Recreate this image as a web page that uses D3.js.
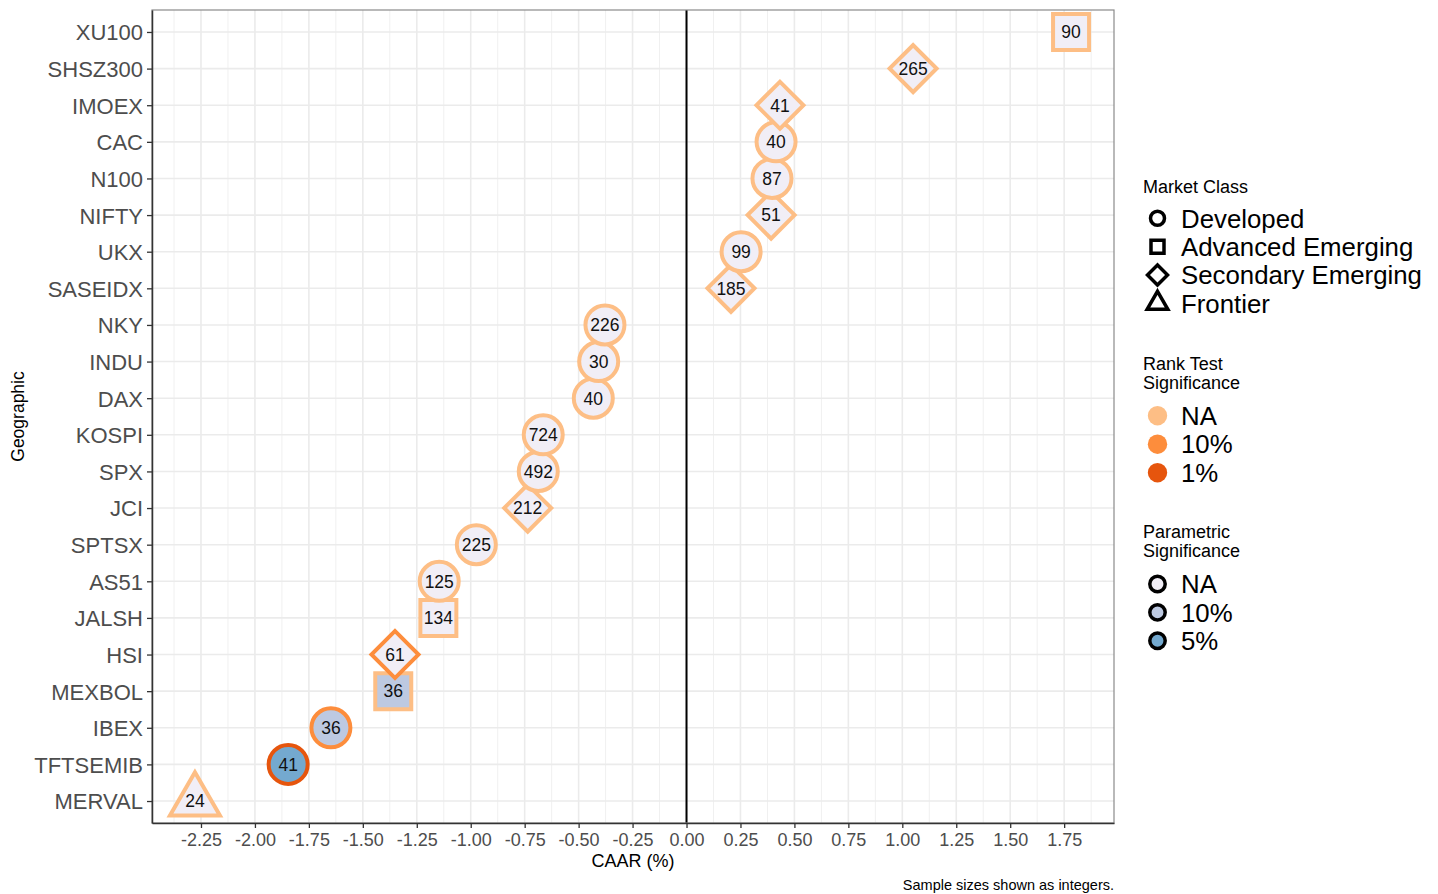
<!DOCTYPE html>
<html><head><meta charset="utf-8">
<script src="https://cdn.jsdelivr.net/npm/d3@7"></script>
<style>
body{margin:0;background:#fff}
text{font-family:"Liberation Sans",Arial,Helvetica,sans-serif}
</style>
</head><body>
<svg id="chart" width="1438" height="894"></svg>
<script>
// Index CAAR estimates, top row first
const tickers = ["XU100","SHSZ300","IMOEX","CAC","N100","NIFTY","UKX","SASEIDX","NKY","INDU","DAX","KOSPI","SPX","JCI","SPTSX","AS51","JALSH","HSI","MEXBOL","IBEX","TFTSEMIB","MERVAL"];
const caar = [1.782,1.050,0.433,0.415,0.396,0.392,0.253,0.206,-0.378,-0.407,-0.432,-0.664,-0.687,-0.736,-0.974,-1.146,-1.150,-1.351,-1.359,-1.648,-1.846,-2.278];
const sampleSize = [90,265,41,40,87,51,99,185,226,30,40,724,492,212,225,125,134,61,36,36,41,24];
const marketClass = ["Advanced Emerging","Secondary Emerging","Secondary Emerging","Developed","Developed","Secondary Emerging","Developed","Secondary Emerging","Developed","Developed","Developed","Developed","Developed","Secondary Emerging","Developed","Developed","Advanced Emerging","Secondary Emerging","Advanced Emerging","Developed","Developed","Frontier"];
const rankSig = ["NA","NA","NA","NA","NA","NA","NA","NA","NA","NA","NA","NA","NA","NA","NA","NA","NA","10%","NA","10%","1%","NA"];
const paramSig = ["NA","NA","NA","NA","NA","NA","NA","NA","NA","NA","NA","NA","NA","NA","NA","NA","NA","NA","10%","10%","5%","NA"];

const xTicks = [-2.25,-2.00,-1.75,-1.50,-1.25,-1.00,-0.75,-0.50,-0.25,0.00,0.25,0.50,0.75,1.00,1.25,1.50,1.75];
const classLevels = ["Developed","Advanced Emerging","Secondary Emerging","Frontier"];
const rankLevels = ["NA","10%","1%"];
const paramLevels = ["NA","10%","5%"];

const svg = d3.select("#chart");
const panel = {left:152, right:1114, top:10, bottom:823};

const x = d3.scaleLinear().domain([-2.477, 1.981]).range([panel.left, panel.right]);
const y = d3.scalePoint().domain(tickers).range([panel.top, panel.bottom]).padding(0.6);

const rankColor = d3.scaleOrdinal().domain(rankLevels).range(["#fdbe85","#fd8d3c","#e6550d"]);
const paramColor = d3.scaleOrdinal().domain(paramLevels).range(["#f1eef6","#bdc9e1","#74a9cf"]);

// symbol generators per market class, sized in px^2
function shapeFor(cls) {
  if (cls === "Developed") return {type:d3.symbolCircle, size:Math.PI*19.5*19.5, rot:0};
  if (cls === "Advanced Emerging") return {type:d3.symbolSquare, size:36*36, rot:0};
  if (cls === "Secondary Emerging") return {type:d3.symbolSquare, size:Math.pow(23.5*Math.SQRT2,2), rot:45};
  return {type:d3.symbolTriangle, size:1082, rot:0};
}

// grid
const minor = [];
for (let i = 0; i < xTicks.length - 1; i++) minor.push((xTicks[i] + xTicks[i+1]) / 2);
minor.unshift(xTicks[0] - 0.125);
minor.push(xTicks[xTicks.length-1] + 0.125);

const grid = svg.append("g");
grid.selectAll("line.minor").data(minor).join("line")
  .attr("x1", d => x(d)).attr("x2", d => x(d))
  .attr("y1", panel.top).attr("y2", panel.bottom)
  .attr("stroke", "#f0f0f0").attr("stroke-width", 1);
grid.selectAll("line.majorx").data(xTicks).join("line")
  .attr("x1", d => x(d)).attr("x2", d => x(d))
  .attr("y1", panel.top).attr("y2", panel.bottom)
  .attr("stroke", "#ebebeb").attr("stroke-width", 1.6);
grid.selectAll("line.majory").data(tickers).join("line")
  .attr("x1", panel.left).attr("x2", panel.right)
  .attr("y1", d => y(d)).attr("y2", d => y(d))
  .attr("stroke", "#ebebeb").attr("stroke-width", 1.6);

// zero reference line
svg.append("line")
  .attr("x1", x(0)).attr("x2", x(0))
  .attr("y1", panel.top).attr("y2", panel.bottom)
  .attr("stroke", "#000").attr("stroke-width", 2);

// points, drawn from the bottom row upwards
const rows = tickers.map((t, i) => ({t, v:caar[i], n:sampleSize[i], cls:marketClass[i], rank:rankSig[i], par:paramSig[i]})).reverse();

const pts = svg.append("g").selectAll("g").data(rows).join("g")
  .attr("transform", d => `translate(${x(d.v)},${y(d.t)})`);
pts.append("path")
  .attr("d", d => { const s = shapeFor(d.cls); return d3.symbol().type(s.type).size(s.size)(); })
  .attr("transform", d => `rotate(${shapeFor(d.cls).rot})`)
  .attr("fill", d => paramColor(d.par))
  .attr("stroke", d => rankColor(d.rank))
  .attr("stroke-width", 4)
  .attr("stroke-linejoin", "miter");
pts.append("text")
  .attr("text-anchor", "middle").attr("dy", "0.36em")
  .attr("font-size", 17.5).attr("fill", "#111")
  .text(d => d.n);

// panel border
svg.append("rect")
  .attr("x", panel.left).attr("y", panel.top)
  .attr("width", panel.right - panel.left).attr("height", panel.bottom - panel.top)
  .attr("fill", "none").attr("stroke", "#8a8a8a").attr("stroke-width", 1.2);

// axes
const fmt = d3.formatLocale({decimal:".", thousands:",", grouping:[3], currency:["",""], minus:"-"}).format(".2f");
const xAxis = svg.append("g").attr("transform", `translate(0,${panel.bottom})`)
  .call(d3.axisBottom(x).tickValues(xTicks).tickFormat(fmt).tickSize(5).tickSizeOuter(0));
xAxis.select(".domain").attr("stroke", "#333").attr("stroke-width", 1.5);
xAxis.selectAll(".tick line").attr("stroke", "#333").attr("stroke-width", 1.3);
xAxis.selectAll(".tick text").attr("font-size", 18).attr("fill", "#4d4d4d")
  .attr("y", 10).attr("dy", "0.71em").attr("font-family", "Liberation Sans, Arial, sans-serif");

const yAxis = svg.append("g").attr("transform", `translate(${panel.left},0)`)
  .call(d3.axisLeft(y).tickSize(5).tickSizeOuter(0));
yAxis.select(".domain").attr("stroke", "#333").attr("stroke-width", 1.5);
yAxis.selectAll(".tick line").attr("stroke", "#333").attr("stroke-width", 1.3);
yAxis.selectAll(".tick text").attr("font-size", 22).attr("fill", "#4d4d4d")
  .attr("x", -9).attr("dy", "0.36em").attr("font-family", "Liberation Sans, Arial, sans-serif");

// axis titles and caption
svg.append("text").attr("x", (panel.left + panel.right) / 2).attr("y", 867)
  .attr("text-anchor", "middle").attr("font-size", 18).attr("fill", "#000").text("CAAR (%)");
svg.append("text").attr("transform", `translate(24,${(panel.top + panel.bottom) / 2}) rotate(-90)`)
  .attr("text-anchor", "middle").attr("font-size", 17.5).attr("fill", "#000").text("Geographic");
svg.append("text").attr("x", panel.right).attr("y", 890)
  .attr("text-anchor", "end").attr("font-size", 14.5).attr("fill", "#000").text("Sample sizes shown as integers.");

// legends
const lg = svg.append("g");
const keyX = 1157.5, labX = 1181;

lg.append("text").attr("x", 1143).attr("y", 193).attr("font-size", 18).text("Market Class");
const legendShapes = {"Developed":{type:d3.symbolCircle,size:Math.PI*49,rot:0},
  "Advanced Emerging":{type:d3.symbolSquare,size:169,rot:0},
  "Secondary Emerging":{type:d3.symbolSquare,size:200,rot:45},
  "Frontier":{type:d3.symbolTriangle,size:185,rot:0}};
const classY = d3.scalePoint().domain(classLevels).range([218.3, 303.3]);
const ck = lg.selectAll("g.cls").data(classLevels).join("g")
  .attr("transform", d => `translate(${keyX},${classY(d)})`);
ck.append("path")
  .attr("d", d => d3.symbol().type(legendShapes[d].type).size(legendShapes[d].size)())
  .attr("transform", d => `rotate(${legendShapes[d].rot})`)
  .attr("fill", "#fff").attr("stroke", "#000").attr("stroke-width", 3.5);
ck.append("text").attr("x", labX - keyX).attr("dy", "0.36em").attr("font-size", 25.8).text(d => d);

lg.append("text").attr("x", 1143).attr("y", 370).attr("font-size", 18).text("Rank Test");
lg.append("text").attr("x", 1143).attr("y", 389).attr("font-size", 18).text("Significance");
const rankY = d3.scalePoint().domain(rankLevels).range([415.7, 472.7]);
const rk = lg.selectAll("g.rank").data(rankLevels).join("g")
  .attr("transform", d => `translate(${keyX},${rankY(d)})`);
rk.append("circle").attr("r", 9.7).attr("fill", d => rankColor(d));
rk.append("text").attr("x", labX - keyX).attr("dy", "0.36em").attr("font-size", 25.8).text(d => d);

lg.append("text").attr("x", 1143).attr("y", 538).attr("font-size", 18).text("Parametric");
lg.append("text").attr("x", 1143).attr("y", 557).attr("font-size", 18).text("Significance");
const parY = d3.scalePoint().domain(paramLevels).range([584, 640.7]);
const pk = lg.selectAll("g.par").data(paramLevels).join("g")
  .attr("transform", d => `translate(${keyX},${parY(d)})`);
pk.append("circle").attr("r", 7.7).attr("fill", d => paramColor(d)).attr("stroke", "#000").attr("stroke-width", 3.5);
pk.append("text").attr("x", labX - keyX).attr("dy", "0.36em").attr("font-size", 25.8).text(d => d);
</script>
</body></html>
